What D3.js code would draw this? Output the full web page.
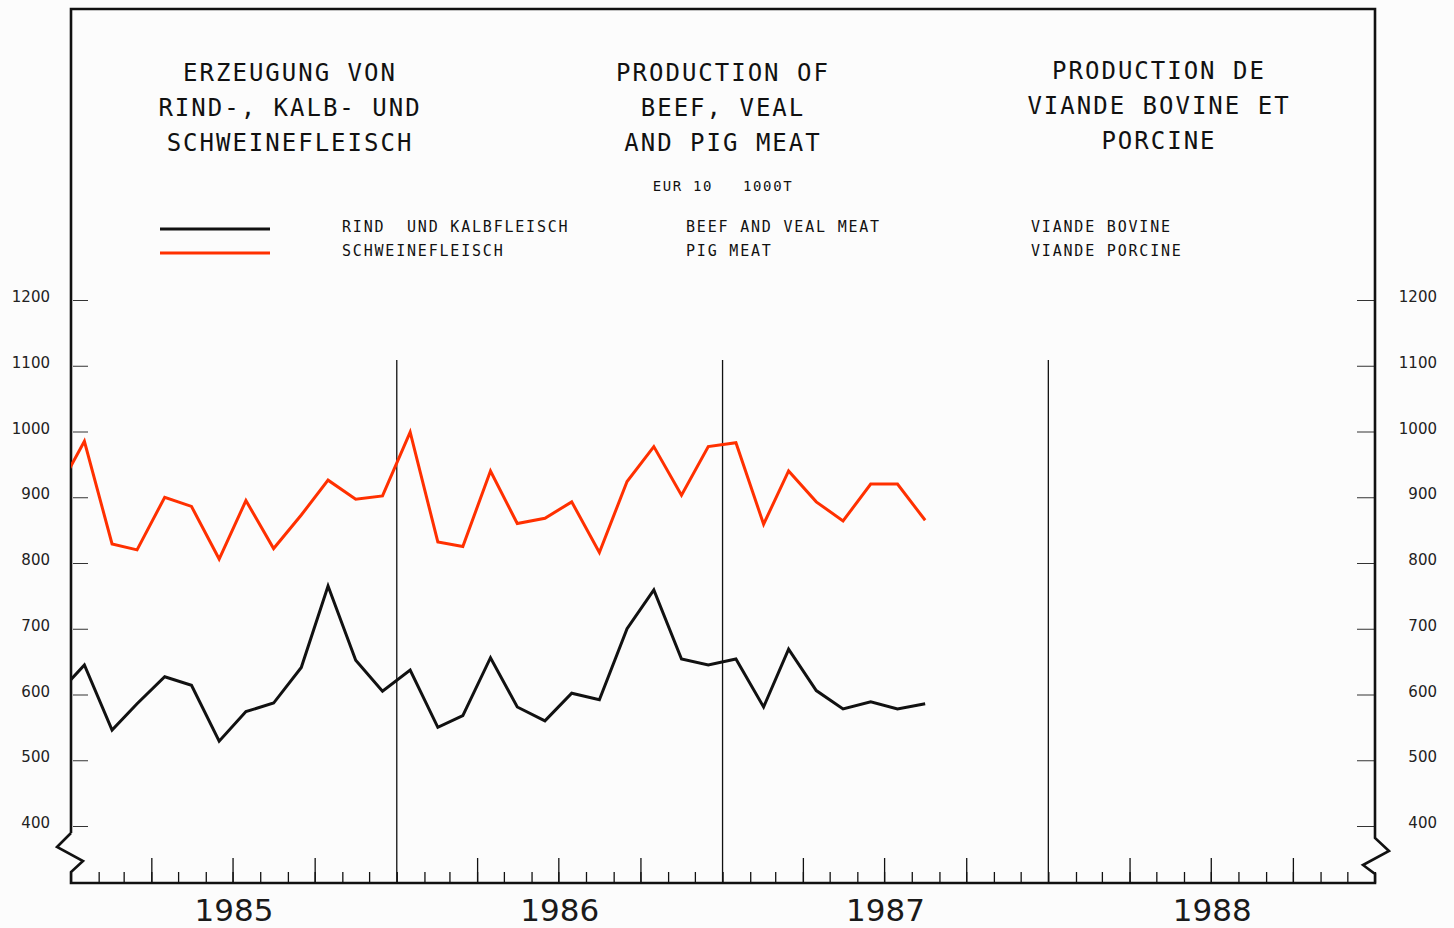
<!DOCTYPE html>
<html>
<head>
<meta charset="utf-8">
<script src="https://cdn.jsdelivr.net/npm/d3@7"></script>
<style>
  html, body { margin: 0; padding: 0; background: #fcfcfc; }
  svg { display: block; }
  .mono { font-family: "DejaVu Sans Mono", monospace; fill: #111; }
  .tick text { font-family: "DejaVu Sans", sans-serif; fill: #222; }
</style>
</head>
<body>
<script>
// ---- data ----
const months = [
  "1984-12",
  "1985-01","1985-02","1985-03","1985-04","1985-05","1985-06","1985-07","1985-08","1985-09","1985-10","1985-11","1985-12",
  "1986-01","1986-02","1986-03","1986-04","1986-05","1986-06","1986-07","1986-08","1986-09","1986-10","1986-11","1986-12",
  "1987-01","1987-02","1987-03","1987-04","1987-05","1987-06","1987-07","1987-08"
];
const beefVeal = [599,
  645,546,586,627,614,529,574,587,641,765,652,605,
  637,550,568,656,581,560,602,592,700,759,654,645,
  654,581,669,606,578,589,578,586];
const pigMeat = [908,
  985,829,820,900,886,806,895,822,873,926,897,902,
  999,832,825,940,860,868,893,816,924,977,903,977,
  983,859,940,893,864,920,920,865];
const yTicks = [400,500,600,700,800,900,1000,1100,1200];
const yearLabels = ["1985","1986","1987","1988"];
const titleDE = ["ERZEUGUNG VON","RIND-, KALB- UND","SCHWEINEFLEISCH"];
const titleEN = ["PRODUCTION OF","BEEF, VEAL","AND PIG MEAT"];
const titleFR = ["PRODUCTION DE","VIANDE BOVINE ET","PORCINE"];
const unitLabel = "EUR 10   1000T";
const legendDE = ["RIND  UND KALBFLEISCH","SCHWEINEFLEISCH"];
const legendEN = ["BEEF AND VEAL MEAT","PIG MEAT"];
const legendFR = ["VIANDE BOVINE","VIANDE PORCINE"];
const seriesColors = ["#111111","#ff3000"];

// ---- layout ----
const W = 1454, H = 928;
const L = 71, R = 1375, T = 9, B = 883;

const svg = d3.select("body").append("svg").attr("width", W).attr("height", H);

const parse = d3.timeParse("%Y-%m");
const midMonth = s => { const d = parse(s); return new Date(d.getFullYear(), d.getMonth(), 16); };

const x = d3.scaleTime().domain([new Date(1985,0,1), new Date(1989,0,1)]).range([L, R]);
const y = d3.scaleLinear().domain([400, 1200]).range([826, 300]);

// clip
svg.append("clipPath").attr("id","plotclip").append("rect")
  .attr("x", L).attr("y", T).attr("width", R - L).attr("height", B - T);

// year separator lines
const yearStarts = [new Date(1986,0,1), new Date(1987,0,1), new Date(1988,0,1)];
svg.append("g").selectAll("line").data(yearStarts).join("line")
  .attr("x1", d => x(d)).attr("x2", d => x(d))
  .attr("y1", 360).attr("y2", B)
  .attr("stroke", "#111").attr("stroke-width", 1.3);

// month ticks (small)
const monthAxis = d3.axisBottom(x).ticks(d3.timeMonth.every(1)).tickSize(-11).tickFormat("");
const gm = svg.append("g").attr("transform", `translate(0,${B})`).call(monthAxis);
gm.select(".domain").remove();
gm.selectAll(".tick line").attr("stroke", "#111").attr("stroke-width", 1.3);

// quarter ticks (long)
const quarterVals = x.ticks(d3.timeMonth.every(3)).filter(d => d.getMonth() !== 0);
const qAxis = d3.axisBottom(x).tickValues(quarterVals).tickSize(-25).tickFormat("");
const gq = svg.append("g").attr("transform", `translate(0,${B})`).call(qAxis);
gq.select(".domain").remove();
gq.selectAll(".tick line").attr("stroke", "#111").attr("stroke-width", 1.3);

// year labels
const yearAxis = d3.axisBottom(x)
  .tickValues(yearLabels.map(s => new Date(+s, 6, 2)))
  .tickSize(0).tickPadding(0)
  .tickFormat((d, i) => yearLabels[i]);
const gy = svg.append("g").attr("transform", `translate(0,${B})`).call(yearAxis);
gy.select(".domain").remove();
gy.selectAll(".tick text")
  .attr("y", 38).attr("dy", 0)
  .style("font-family", "'DejaVu Sans', sans-serif")
  .style("font-size", "31px").style("fill", "#1a1a1a");

// left y ticks (inside)
const fmt = d3.format("d");
const ly = svg.append("g").attr("transform", `translate(${L + 2},0)`)
  .call(d3.axisRight(y).tickValues(yTicks).tickSize(15).tickFormat(""));
ly.select(".domain").remove();
ly.selectAll(".tick line").attr("stroke", "#333").attr("stroke-width", 1);
const lyl = svg.append("g").attr("transform", `translate(50,0)`)
  .call(d3.axisLeft(y).tickValues(yTicks).tickSize(0).tickPadding(0).tickFormat(fmt));
lyl.select(".domain").remove();
lyl.selectAll(".tick text").attr("dy", "0.1em").style("font-size", "15px");

// right y ticks (inside)
const ry = svg.append("g").attr("transform", `translate(${R},0)`)
  .call(d3.axisLeft(y).tickValues(yTicks).tickSize(18).tickFormat(""));
ry.select(".domain").remove();
ry.selectAll(".tick line").attr("stroke", "#333").attr("stroke-width", 1);
const ryl = svg.append("g").attr("transform", `translate(1437,0)`)
  .call(d3.axisLeft(y).tickValues(yTicks).tickSize(0).tickPadding(0).tickFormat(fmt));
ryl.select(".domain").remove();
ryl.selectAll(".tick text").attr("dy", "0.1em").style("font-size", "15px");

// frame
const frame = d3.path();
frame.moveTo(L, 833);
frame.lineTo(L, T);
frame.lineTo(R, T);
frame.lineTo(R, 838);
frame.lineTo(R + 14, 851);
frame.lineTo(R - 12, 865);
frame.lineTo(R, 874);
frame.lineTo(R, B);
frame.lineTo(L, B);
frame.lineTo(L, 872);
frame.lineTo(L + 12, 861);
frame.lineTo(L - 14, 847);
frame.lineTo(L, 833);
svg.append("path").attr("d", frame.toString())
  .attr("fill", "none").attr("stroke", "#111").attr("stroke-width", 2.6)
  .attr("stroke-linejoin", "miter");

// series lines
const line = d3.line().x((d, i) => x(midMonth(months[i]))).y(d => y(d));
const gLines = svg.append("g").attr("clip-path", "url(#plotclip)");
[pigMeat, beefVeal].forEach((s, k) => {
  gLines.append("path").datum(s)
    .attr("d", line)
    .attr("fill", "none")
    .attr("stroke", k === 0 ? seriesColors[1] : seriesColors[0])
    .attr("stroke-width", 3)
    .attr("stroke-linejoin", "miter");
});

// titles
function block(lines, cx, y0, step, size, ls) {
  const g = svg.append("g");
  lines.forEach((t, i) => {
    g.append("text").attr("class", "mono")
      .attr("x", cx).attr("y", y0 + i * step)
      .attr("text-anchor", "middle")
      .style("font-size", size + "px")
      .style("letter-spacing", ls + "px")
      .style("white-space", "pre")
      .text(t);
  });
}
block(titleDE, 290, 81, 35, 24, 2);
block(titleEN, 723, 81, 35, 24, 2);
block(titleFR, 1159, 79, 35, 24, 2);
block([unitLabel], 723, 191, 0, 14, 1.6);

// legend
const legendRows = [229, 253];
svg.append("g").selectAll("line").data(legendRows).join("line")
  .attr("x1", 160).attr("x2", 270)
  .attr("y1", d => d).attr("y2", d => d)
  .attr("stroke", (d, i) => seriesColors[i]).attr("stroke-width", 3);

function legendCol(texts, x0) {
  texts.forEach((t, i) => {
    svg.append("text").attr("class", "mono")
      .attr("x", x0).attr("y", legendRows[i] + 3)
      .style("font-size", "15px")
      .style("letter-spacing", "1.8px")
      .style("white-space", "pre")
      .text(t);
  });
}
legendCol(legendDE, 342);
legendCol(legendEN, 686);
legendCol(legendFR, 1031);
</script>
</body>
</html>
